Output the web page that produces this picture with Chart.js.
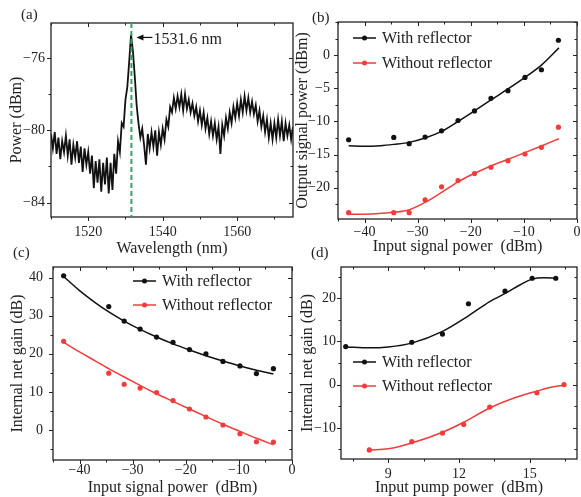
<!DOCTYPE html>
<html>
<head>
<meta charset="utf-8">
<script src="https://cdn.jsdelivr.net/npm/chart.js@4.4.1/dist/chart.umd.min.js"></script>
<style>
  html, body { margin: 0; padding: 0; background: #fff; }
  #wrap { position: relative; width: 581px; height: 497px; overflow: hidden; }
  #wrap canvas { position: absolute; left: 0; top: 0; }
  .tag { position: absolute; font: 15px "Liberation Serif", serif; color: #222; line-height: 1; }
</style>
</head>
<body>
<div id="wrap">
  <canvas id="chartA" width="581" height="497"></canvas>
  <canvas id="chartB" width="581" height="497"></canvas>
  <canvas id="chartC" width="581" height="497"></canvas>
  <canvas id="chartD" width="581" height="497"></canvas>
  <div class="tag" style="left:21px;top:7px">(a)</div>
  <div class="tag" style="left:312px;top:10px">(b)</div>
  <div class="tag" style="left:13px;top:245px">(c)</div>
  <div class="tag" style="left:311px;top:245px">(d)</div>
</div>
<script>
// (a) spectrum, every 0.5 nm
const specWl = [1510,1510.5,1511,1511.5,1512,1512.5,1513,1513.5,1514,1514.5,1515,1515.5,1516,1516.5,1517,1517.5,1518,1518.5,1519,1519.5,
  1520,1520.5,1521,1521.5,1522,1522.5,1523,1523.5,1524,1524.5,1525,1525.5,1526,1526.5,1527,1527.5,1528,1528.5,1529,1529.5,
  1530,1530.5,1531,1531.5,1532,1532.5,1533,1533.5,1534,1534.5,1535,1535.5,1536,1536.5,1537,1537.5,1538,1538.5,1539,1539.5,
  1540,1540.5,1541,1541.5,1542,1542.5,1543,1543.5,1544,1544.5,1545,1545.5,1546,1546.5,1547,1547.5,1548,1548.5,1549,1549.5,
  1550,1550.5,1551,1551.5,1552,1552.5,1553,1553.5,1554,1554.5,1555,1555.5,1556,1556.5,1557,1557.5,1558,1558.5,1559,1559.5,
  1560,1560.5,1561,1561.5,1562,1562.5,1563,1563.5,1564,1564.5,1565,1565.5,1566,1566.5,1567,1567.5,1568,1568.5,1569,1569.5,
  1570,1570.5,1571,1571.5,1572,1572.5,1573,1573.5,1574,1574.5,1575];
const specPower = [-80.2,-81.0,-80.1,-81.3,-80.4,-81.6,-80.6,-81.2,-80.3,-81.4,-80.5,-81.9,-80.8,-81.5,-80.6,-81.8,-80.9,-82.3,-81.0,-81.9,
  -81.2,-82.4,-81.4,-83.2,-81.7,-82.9,-81.6,-83.4,-81.8,-83.0,-81.5,-83.5,-81.8,-83.3,-81.3,-82.4,-80.6,-81.2,-79.6,-79.8,
  -78.3,-77.6,-76.2,-74.7,-75.6,-77.0,-78.6,-79.6,-80.4,-79.9,-80.8,-81.9,-80.2,-81.0,-80.1,-80.9,-80.0,-81.4,-80.1,-80.8,
  -79.9,-80.5,-79.4,-79.8,-78.7,-79.0,-78.2,-78.8,-78.1,-78.7,-78.0,-78.9,-78.0,-78.8,-78.3,-79.0,-78.5,-79.2,-78.7,-79.5,
  -78.9,-79.7,-79.0,-79.9,-79.3,-80.2,-79.5,-80.3,-79.6,-80.5,-79.8,-81.3,-79.7,-80.3,-79.3,-79.9,-79.0,-79.6,-78.7,-79.3,
  -78.5,-79.2,-78.3,-79.0,-78.1,-78.9,-78.2,-79.0,-78.4,-79.1,-78.6,-79.5,-78.9,-79.8,-79.2,-80.1,-79.4,-80.4,-79.6,-80.5,
  -79.6,-80.4,-79.4,-80.3,-79.5,-80.6,-79.6,-80.3,-79.7,-80.5,-79.8];
const peakWl = 1531.6;
const peakText = '1531.6 nm';
const aTicksX = [1520, 1540, 1560];
const aTicksY = [-84, -80, -76];

// (b) and (c) share the input signal powers
const signalIn = [-43, -34.5, -31.6, -28.6, -25.5, -22.4, -19.3, -16.2, -13.0, -9.8, -6.7, -3.5];
const outWith = [-12.75, -12.4, -13.35, -12.35, -11.4, -9.85, -8.4, -6.5, -5.35, -3.35, -2.2, 2.25];
const outWithout = [-23.75, -23.75, -23.75, -21.8, -19.85, -18.9, -17.85, -16.9, -15.9, -14.9, -13.9, -10.85];
const outFitX = [-43, -40, -37, -34.5, -31.6, -28.6, -25.5, -22.4, -19.3, -16.2, -13.0, -9.8, -6.7, -3.4];
const outFitWith = [-13.65, -13.75, -13.65, -13.45, -13.15, -12.5, -11.5, -10.0, -8.4, -6.75, -5.1, -3.35, -1.5, 1.1];
const outFitWithoutX = [-43, -38, -34.5, -31.6, -28.6, -25.5, -22.4, -19.3, -16.2, -13.0, -9.8, -6.7, -3.4];
const outFitWithout = [-24.0, -23.9, -23.7, -23.3, -22.2, -20.7, -19.1, -17.8, -16.7, -15.7, -14.7, -13.7, -12.6];
const bTicksX = [-40, -30, -20, -10, 0];
const bTicksY = [-20, -15, -10, -5, 0];

const gainWith = [40.5, 32.4, 28.6, 26.5, 24.4, 23.0, 21.1, 20.0, 18.0, 16.8, 14.8, 16.1];
const gainWithout = [23.3, 14.9, 12.0, 11.0, 9.8, 7.7, 5.5, 3.4, 1.3, -1.0, -3.1, -3.2];
const gainFitX = [-43, -40, -37, -34.5, -31.6, -28.6, -25.5, -22.4, -19.3, -16.2, -13.0, -9.8, -6.7, -3.5];
const gainFitWith = [40.3, 36.6, 33.4, 31.0, 28.6, 26.4, 24.4, 22.6, 21.0, 19.5, 18.1, 16.8, 15.7, 14.7];
const gainFitWithout = [23.0, 20.5, 18.1, 16.1, 13.9, 11.7, 9.5, 7.5, 5.5, 3.5, 1.5, -0.4, -2.2, -3.9];
const cTicksX = [-40, -30, -20, -10, 0];
const cTicksY = [0, 10, 20, 30, 40];

// (d) pump sweep
const pumpWith = [7.2, 10.0, 11.3, 12.4, 13.95, 15.1, 16.1];
const pumpGainWith = [8.8, 9.8, 11.7, 18.7, 21.6, 24.6, 24.6];
const pumpWithout = [8.2, 10.0, 11.3, 12.2, 13.3, 15.3, 16.45];
const pumpGainWithout = [-15.1, -13.2, -11.2, -9.2, -5.2, -1.9, 0.0];
const pumpFitWithX = [7.2, 8.2, 9, 10, 11.3, 12.4, 13.3, 14, 14.6, 15.1, 15.6, 16.1];
const pumpFitWith = [8.7, 8.5, 8.7, 9.6, 12.3, 15.9, 19.2, 21.2, 23.1, 24.4, 24.7, 24.6];
const pumpFitWithoutX = [8.2, 9, 10, 11.3, 12.2, 13.3, 14.3, 15.3, 16, 16.45];
const pumpFitWithout = [-15.15, -14.85, -13.5, -11.0, -8.7, -5.4, -3.15, -1.5, -0.5, -0.15];
const dTicksX = [9, 12, 15];
const dTicksY = [-10, 0, 10, 20];

const seriesNames = ['With reflector', 'Without reflector'];
const BLACK = '#111111';
const RED = '#f03c3c';
const INK = '#222222';

Chart.defaults.font.family = '"Liberation Serif", "Times New Roman", serif';
Chart.defaults.color = INK;

const pts = (xs, ys) => xs.map((x, i) => ({ x: x, y: ys[i] }));

function fitSet(xs, ys, color) {
  return { data: pts(xs, ys), showLine: true, borderColor: color, borderWidth: 1.5,
           pointRadius: 0, cubicInterpolationMode: 'monotone', fill: false };
}
function dotSet(label, xs, ys, color) {
  return { label: label, data: pts(xs, ys), showLine: false, pointRadius: 2.6,
           pointBackgroundColor: color, pointBorderWidth: 0, borderColor: color };
}

function stepValues(min, max, step) {
  const out = [];
  for (let v = Math.ceil(min / step - 1e-9) * step; v <= max + 1e-9; v += step) out.push(+v.toFixed(6));
  return out;
}

// box with outward ticks left/bottom, inward mirror ticks top/right
const framePlugin = {
  id: 'frame',
  afterDatasetsDraw(chart, args, o) {
    const { ctx, chartArea: a, scales: { x, y } } = chart;
    ctx.save();
    ctx.strokeStyle = INK;
    ctx.lineWidth = 1.3;
    ctx.strokeRect(a.left, a.top, a.width, a.height);
    ctx.lineWidth = 1;
    ctx.beginPath();
    stepValues(x.min, x.max, o.minorX).forEach(v => {
      const p = Math.round(x.getPixelForValue(v)) + 0.5;
      const len = o.majorX.includes(v) ? 4 : 2.5;
      ctx.moveTo(p, a.bottom); ctx.lineTo(p, a.bottom + len);
      ctx.moveTo(p, a.top); ctx.lineTo(p, a.top + len);
    });
    stepValues(y.min, y.max, o.minorY).forEach(v => {
      const p = Math.round(y.getPixelForValue(v)) + 0.5;
      const len = o.majorY.includes(v) ? 4 : 2.5;
      ctx.moveTo(a.left, p); ctx.lineTo(a.left - len, p);
      ctx.moveTo(a.right, p); ctx.lineTo(a.right - len, p);
    });
    ctx.stroke();
    ctx.restore();
  }
};

// legend drawn inside the plot
const keyPlugin = {
  id: 'keyBox',
  afterDatasetsDraw(chart, args, o) {
    const ctx = chart.ctx;
    ctx.save();
    ctx.font = '16px "Liberation Serif"';
    ctx.textBaseline = 'middle';
    o.items.forEach((it, i) => {
      const yy = o.y + i * o.dy;
      ctx.strokeStyle = it.color; ctx.fillStyle = it.color; ctx.lineWidth = 1.5;
      ctx.beginPath(); ctx.moveTo(o.x, yy); ctx.lineTo(o.x + 23, yy); ctx.stroke();
      ctx.beginPath(); ctx.arc(o.x + 11.5, yy, 2.5, 0, Math.PI * 2); ctx.fill();
      ctx.fillStyle = INK;
      ctx.fillText(it.label, o.x + 29, yy + 1);
    });
    ctx.restore();
  }
};

// green marker line + arrow label in (a)
const notePlugin = {
  id: 'peakNote',
  afterDatasetsDraw(chart, args, o) {
    const { ctx, chartArea: a, scales: { x, y } } = chart;
    const px = x.getPixelForValue(o.at), py = y.getPixelForValue(o.level);
    ctx.save();
    ctx.strokeStyle = '#2fa464'; ctx.lineWidth = 2; ctx.setLineDash([5, 3]);
    ctx.beginPath(); ctx.moveTo(px, a.top); ctx.lineTo(px, a.bottom); ctx.stroke();
    ctx.setLineDash([]);
    const tip = px + 5, tail = px + 21;
    ctx.strokeStyle = BLACK; ctx.fillStyle = BLACK; ctx.lineWidth = 1.2;
    ctx.beginPath(); ctx.moveTo(tail, py); ctx.lineTo(tip + 4, py); ctx.stroke();
    ctx.beginPath(); ctx.moveTo(tip, py); ctx.lineTo(tip + 7, py - 3); ctx.lineTo(tip + 7, py + 3); ctx.closePath(); ctx.fill();
    ctx.fillStyle = INK;
    ctx.font = '16px "Liberation Serif"';
    ctx.textBaseline = 'middle';
    ctx.fillText(o.text, tail + 1, py + 2);
    ctx.restore();
  }
};

function axis(o, dir) {
  return {
    type: 'linear', min: o.min, max: o.max,
    grid: { display: false, drawTicks: false },
    border: { display: false },
    ticks: { padding: o.tickPad, font: { size: 14 }, color: INK, autoSkip: false, maxRotation: 0,
             callback: v => String(v).replace('-', '\u2212') },
    title: { display: true, text: o.title, font: { size: 16 }, color: INK,
             padding: dir === 'x' ? { top: 0, bottom: o.titlePad } : { top: o.titlePad, bottom: 0 } },
    afterBuildTicks: s => { s.ticks = o.ticks.map(v => ({ value: v })); },
    afterFit: s => {
      if (dir === 'x') { s.height = o.size; s.paddingLeft = 0; s.paddingRight = 0; }
      else { s.width = o.size; s.paddingTop = 0; s.paddingBottom = 0; }
    }
  };
}

function makeChart(id, c) {
  return new Chart(document.getElementById(id), {
    type: 'scatter',
    data: { datasets: c.datasets },
    options: {
      responsive: false, animation: false, devicePixelRatio: 1,
      layout: { padding: c.pad },
      plugins: {
        legend: { display: false }, tooltip: { enabled: false },
        frame: c.frame, keyBox: c.key || false, peakNote: c.note || false
      },
      scales: { x: axis(c.x, 'x'), y: axis(c.y, 'y') }
    },
    plugins: [framePlugin, keyPlugin, notePlugin]
  });
}

const keyItems = [{ label: seriesNames[0], color: BLACK }, { label: seriesNames[1], color: RED }];

// (a)
makeChart('chartA', {
  pad: { left: 0, top: 23, right: 288, bottom: 239 },
  datasets: [{ data: pts(specWl, specPower), showLine: true, borderColor: BLACK, borderWidth: 1.8,
               pointRadius: 0, tension: 0 }],
  x: { min: 1510, max: 1575, ticks: aTicksX, title: 'Wavelength (nm)', size: 41, tickPad: 7, titlePad: 0 },
  y: { min: -84.8, max: -74.05, ticks: aTicksY, title: 'Power (dBm)', size: 51, tickPad: 6, titlePad: 7 },
  frame: { minorX: 10, minorY: 2, majorX: aTicksX, majorY: aTicksY },
  note: { at: peakWl, level: -74.85, text: peakText }
});

// (b)
makeChart('chartB', {
  pad: { left: 290, top: 22, right: 1, bottom: 241 },
  datasets: [
    fitSet(outFitX, outFitWith, BLACK),
    fitSet(outFitWithoutX, outFitWithout, RED),
    dotSet(seriesNames[0], signalIn, outWith, BLACK),
    dotSet(seriesNames[1], signalIn, outWithout, RED)
  ],
  x: { min: -45, max: 0, ticks: bTicksX, title: 'Input signal power  (dBm)', size: 37, tickPad: 5, titlePad: 0 },
  y: { min: -24.7, max: 5, ticks: bTicksY, title: 'Output signal power (dBm)', size: 48, tickPad: 8, titlePad: 3 },
  frame: { minorX: 5, minorY: 2.5, majorX: bTicksX, majorY: bTicksY },
  key: { x: 353, y: 38, dy: 25, items: keyItems }
});

// (c)
makeChart('chartC', {
  pad: { left: 0, top: 267, right: 289, bottom: 0 },
  datasets: [
    fitSet(gainFitX, gainFitWith, BLACK),
    fitSet(gainFitX, gainFitWithout, RED),
    dotSet(seriesNames[0], signalIn, gainWith, BLACK),
    dotSet(seriesNames[1], signalIn, gainWithout, RED)
  ],
  x: { min: -45, max: 0, ticks: cTicksX, title: 'Input signal power  (dBm)', size: 37, tickPad: 2, titlePad: 0 },
  y: { min: -7.9, max: 42.8, ticks: cTicksY, title: 'Internal net gain (dB)', size: 53, tickPad: 10, titlePad: 8 },
  frame: { minorX: 5, minorY: 5, majorX: cTicksX, majorY: cTicksY },
  key: { x: 133, y: 281, dy: 24, items: keyItems }
});

// (d)
makeChart('chartD', {
  pad: { left: 290, top: 267, right: 2, bottom: 0 },
  datasets: [
    fitSet(pumpFitWithX, pumpFitWith, BLACK),
    fitSet(pumpFitWithoutX, pumpFitWithout, RED),
    dotSet(seriesNames[0], pumpWith, pumpGainWith, BLACK),
    dotSet(seriesNames[1], pumpWithout, pumpGainWithout, RED)
  ],
  x: { min: 7, max: 17, ticks: dTicksX, title: 'Input pump power  (dBm)', size: 38, tickPad: 7, titlePad: 0 },
  y: { min: -17.2, max: 27.2, ticks: dTicksY, title: 'Internal net gain (dB)', size: 51, tickPad: 5, titlePad: 8 },
  frame: { minorX: 1.5, minorY: 5, majorX: dTicksX, majorY: dTicksY },
  key: { x: 353, y: 362, dy: 24, items: keyItems }
});
</script>
</body>
</html>
